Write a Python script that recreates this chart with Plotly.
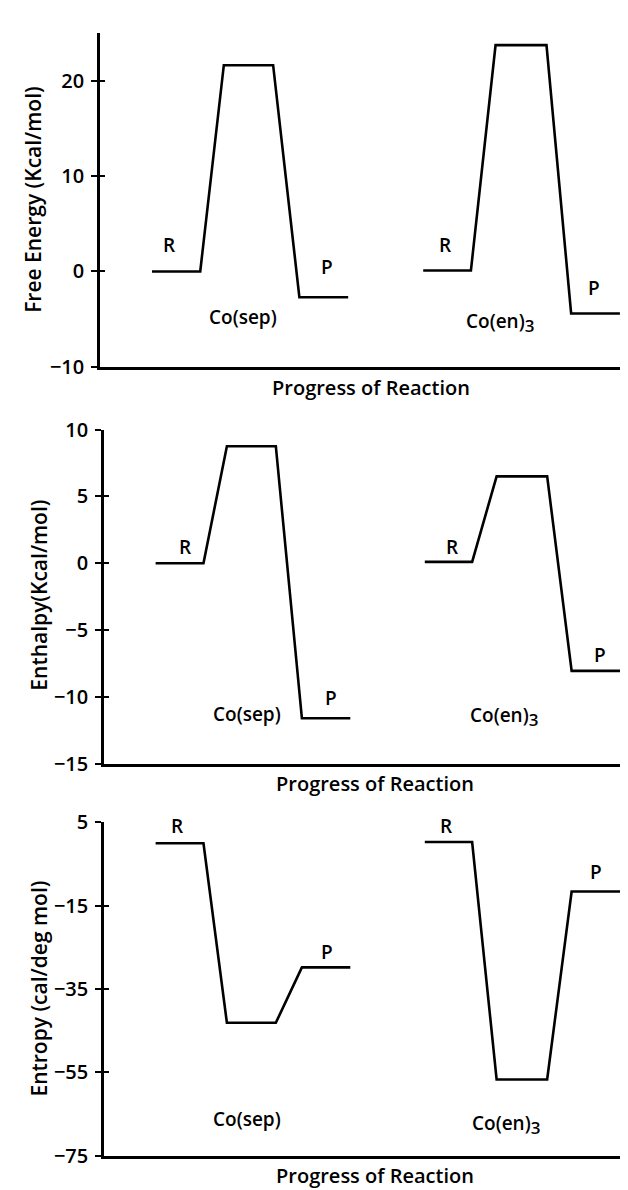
import plotly.graph_objects as go

# ---- data (reaction-coordinate in arbitrary progress units 0-100) ----
X_SEP = [9.7, 18.7, 23.1, 32.3, 37.2, 46.3]
X_EN = [60.3, 69.2, 73.8, 83.3, 87.9, 97.0]

G_SEP = [0.0, 0.0, 21.6, 21.6, -2.7, -2.7]
G_EN = [0.1, 0.1, 23.7, 23.7, -4.4, -4.4]

H_SEP = [0.0, 0.0, 8.75, 8.75, -11.6, -11.6]
H_EN = [0.1, 0.1, 6.5, 6.5, -8.05, -8.05]

S_SEP = [0.0, 0.0, -43.1, -43.1, -29.8, -29.8]
S_EN = [0.3, 0.3, -56.7, -56.7, -11.6, -11.6]

G_TICKS = [-10, 0, 10, 20]
H_TICKS = [-15, -10, -5, 0, 5, 10]
S_TICKS = [-75, -55, -35, -15, 5]

Y_TITLES = ["Free Energy (Kcal/mol)", "Enthalpy(Kcal/mol)", "Entropy (cal/deg mol)"]
X_TITLE = "Progress of Reaction"
SEP_NAME = "Co(sep)"
EN_NAME = "Co(en)<sub><span style='font-size:17px'>3</span></sub>"

W, H = 628, 1190
FAM = "Open Sans, DejaVu Sans, sans-serif"
FONT = dict(family=FAM, color="black", size=20, weight=600)
TFONT = dict(family=FAM, color="black", size=21, weight=600)
LFONT = dict(family=FAM, color="black", size=19, weight=600)
LW = 2.6

fig = go.Figure()

panels = [
    dict(xa="x", ya="y", sep=G_SEP, en=G_EN),
    dict(xa="x2", ya="y2", sep=H_SEP, en=H_EN),
    dict(xa="x3", ya="y3", sep=S_SEP, en=S_EN),
]
for p in panels:
    for xs, ys in ((X_SEP, p["sep"]), (X_EN, p["en"])):
        fig.add_trace(go.Scatter(x=xs, y=ys, mode="lines", xaxis=p["xa"], yaxis=p["ya"],
                                 line=dict(color="black", width=LW), showlegend=False,
                                 hoverinfo="skip"))

def px2py(py):
    return 1 - py / H

def xaxis(dom, anchor):
    return dict(domain=dom, range=[0, 100], anchor=anchor, showline=True, linecolor="black",
                linewidth=2.6, showticklabels=False, ticks="", showgrid=False, zeroline=False,
                fixedrange=True)

def yaxis(dom, rng, ticks, anchor):
    return dict(domain=dom, range=rng, anchor=anchor, showline=True, linecolor="black",
                linewidth=2.6, tickvals=ticks, ticks="outside", ticklen=6, tickwidth=2,
                tickcolor="black", showgrid=False, zeroline=False, tickfont=FONT,
                ticklabelstandoff=3, fixedrange=True)

def yinner(rng, ticks, overlay, anchor):
    return dict(range=rng, overlaying=overlay, anchor=anchor, side="left", showline=False,
                tickvals=ticks, ticks="inside", ticklen=5, tickwidth=2, tickcolor="black",
                showticklabels=False, showgrid=False, zeroline=False, fixedrange=True)

fig.update_layout(
    width=W, height=H, margin=dict(l=0, r=0, t=0, b=0),
    paper_bgcolor="white", plot_bgcolor="white", showlegend=False,
    xaxis=xaxis([92 / W, 1.0], "y"),
    yaxis=yaxis([px2py(353), px2py(11)], [-10, 25], G_TICKS, "x"),
    xaxis2=xaxis([96 / W, 1.0], "y2"),
    yaxis2=yaxis([px2py(759), px2py(417)], [-15, 10], H_TICKS, "x2"),
    xaxis3=xaxis([96 / W, 1.0], "y3"),
    yaxis3=yaxis([px2py(1160), px2py(819)], [-75, 5], S_TICKS, "x3"),
    yaxis4=yinner([-10, 25], G_TICKS, "y", "x"),
    yaxis5=yinner([-15, 10], H_TICKS, "y2", "x2"),
    yaxis6=yinner([-75, 5], S_TICKS, "y3", "x3"),
)
# invisible traces to activate the inner-tick overlay axes
for xa, ya, rng in (("x", "y4", [-10, 25]), ("x2", "y5", [-15, 10]), ("x3", "y6", [-75, 5])):
    fig.add_trace(go.Scatter(x=[None], y=[None], xaxis=xa, yaxis=ya, mode="lines",
                             showlegend=False, hoverinfo="skip"))

ann = []
def lab(text, x, y, xa, ya):
    ann.append(dict(text=text, x=x, y=y, xref=xa, yref=ya, showarrow=False,
                    font=LFONT, xanchor="center", yanchor="middle"))

# panel 1 labels
lab("R", 12.9, 2.8, "x", "y"); lab("P", 42.4, 0.5, "x", "y")
lab(SEP_NAME, 26.7, -4.8, "x", "y")
lab("R", 64.4, 2.8, "x", "y"); lab("P", 92.2, -1.7, "x", "y")
lab(EN_NAME, 74.6, -5.3, "x", "y")
# panel 2 labels
lab("R", 15.2, 1.25, "x2", "y2"); lab("P", 42.7, -10.1, "x2", "y2")
lab(SEP_NAME, 26.9, -11.3, "x2", "y2")
lab("R", 65.4, 1.25, "x2", "y2"); lab("P", 93.2, -6.9, "x2", "y2")
lab(EN_NAME, 75.2, -11.5, "x2", "y2")
# panel 3 labels
lab("R", 13.7, 4.1, "x3", "y3"); lab("P", 41.9, -26.1, "x3", "y3")
lab(SEP_NAME, 26.9, -66.2, "x3", "y3")
lab("R", 64.3, 4.1, "x3", "y3"); lab("P", 92.5, -6.9, "x3", "y3")
lab(EN_NAME, 75.6, -67.4, "x3", "y3")

# axis titles
for t, (cx, cy) in zip(Y_TITLES, [(25, 182), (31, 587), (31, 989)]):
    ann.append(dict(text=t, x=cx / W, y=px2py(cy), xref="paper", yref="paper", showarrow=False,
                    textangle=-90, font=TFONT, xanchor="center", yanchor="middle"))
for cx, cy in [(363, 374), (367, 779), (367, 1180)]:
    ann.append(dict(text=X_TITLE, x=cx / W, y=px2py(cy), xref="paper", yref="paper",
                    showarrow=False, font=FONT, xanchor="center", yanchor="middle"))

fig.update_layout(annotations=ann)
fig.write_html("out.html")
